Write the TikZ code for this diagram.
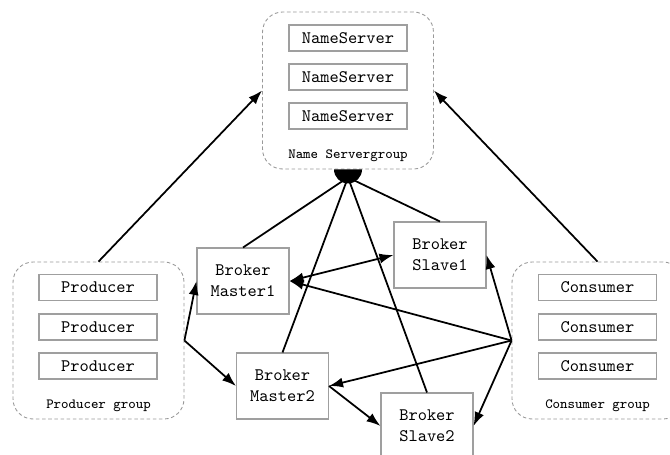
\documentclass[tikz,border=0pt]{standalone}
\usepackage{tikz}
\usetikzlibrary{arrows.meta}

\tikzset{
  box/.style={draw=gray!75, line width=0.6pt, minimum width=2.36cm,
    minimum height=0.52cm, inner sep=0pt,
    font=\ttfamily\fontsize{10}{12}\selectfont},
  broker/.style={draw=gray!75, line width=0.6pt, minimum width=1.84cm,
    minimum height=1.32cm, inner sep=0pt, align=center,
    font=\ttfamily\fontsize{10}{12}\selectfont},
  grp/.style={draw=gray!80, dash pattern=on 2pt off 1.5pt, line width=0.5pt,
    rounded corners=0.4cm, minimum width=3.42cm, minimum height=3.14cm,
    inner sep=0pt},
  grplbl/.style={font=\ttfamily\fontsize{8}{10}\selectfont, inner sep=0pt},
  arr/.style={-{Latex[length=2.8mm,width=2mm]}, line width=1pt},
  darr/.style={{Latex[length=2.8mm,width=2mm]}-{Latex[length=2.8mm,width=2mm]},
    line width=1pt},
  link/.style={line width=1pt},
}

\begin{document}
\begin{tikzpicture}[x=0.02cm, y=-0.02cm] % 1 unit = 1 px, y downwards
  \useasboundingbox (0,0) rectangle (670,454);
  \clip (0,0) rectangle (670,454);

  % Grupuri (chenare punctate)
  \node[grp] (nsgrp) at (348,90.5)  {};
  \node[grp] (prgrp) at (98.5,340.5) {};
  \node[grp] (cogrp) at (597.5,340.5) {};

  % Casute din grupuri
  \foreach \i/\y in {1/38,2/77,3/116} {
    \node[box] (ns\i) at (348,\y) {NameServer};
  }
  \foreach \i/\y in {1/287.5,2/327,3/366} {
    \node[box] (pr\i) at (98,\y)    {Producer};
    \node[box] (co\i) at (597.5,\y) {Consumer};
  }

  % Etichete grupuri
  \node[grplbl] (nslbl) at ([yshift=0.28cm]nsgrp.south) {Name Servergroup};
  \node[grplbl] (prlbl) at ([yshift=0.28cm]prgrp.south) {Producer group};
  \node[grplbl] (colbl) at ([yshift=0.28cm]cogrp.south) {Consumer group};

  % Brokeri
  \node[broker] (m1) at (243,281)   {Broker\\Master1};
  \node[broker] (s1) at (440,255)   {Broker\\Slave1};
  \node[broker] (m2) at (282.5,386) {Broker\\Master2};
  \node[broker] (s2) at (427,426)   {Broker\\Slave2};

  % Punctul comun sub NameServer
  \fill ([xshift=-0.28cm]nsgrp.south) arc[start angle=180, end angle=360,
    radius=0.28cm] -- cycle;
  \coordinate (hub) at ([yshift=-0.16cm]nsgrp.south);
  \foreach \b in {m1,s1,m2,s2} {
    \draw[link] (hub) -- (\b.north);
  }

  % Sageti catre NameServer
  \draw[arr] (prgrp.north) -- (nsgrp.west);
  \draw[arr] (cogrp.north) -- (nsgrp.east);

  % Producer -> Master
  \draw[arr] (prgrp.east) -- (m1.west);
  \draw[arr] (prgrp.east) -- (m2.west);

  % Consumer -> brokeri
  \draw[arr] (cogrp.west) -- (m1.east);
  \draw[arr] (cogrp.west) -- (s1.east);
  \draw[arr] (cogrp.west) -- (m2.east);
  \draw[arr] (cogrp.west) -- (s2.east);

  % Master -> Slave
  \draw[darr] (m1.east) -- (s1.west);
  \draw[arr]  (m2.east) -- (s2.west);
\end{tikzpicture}
\end{document}
